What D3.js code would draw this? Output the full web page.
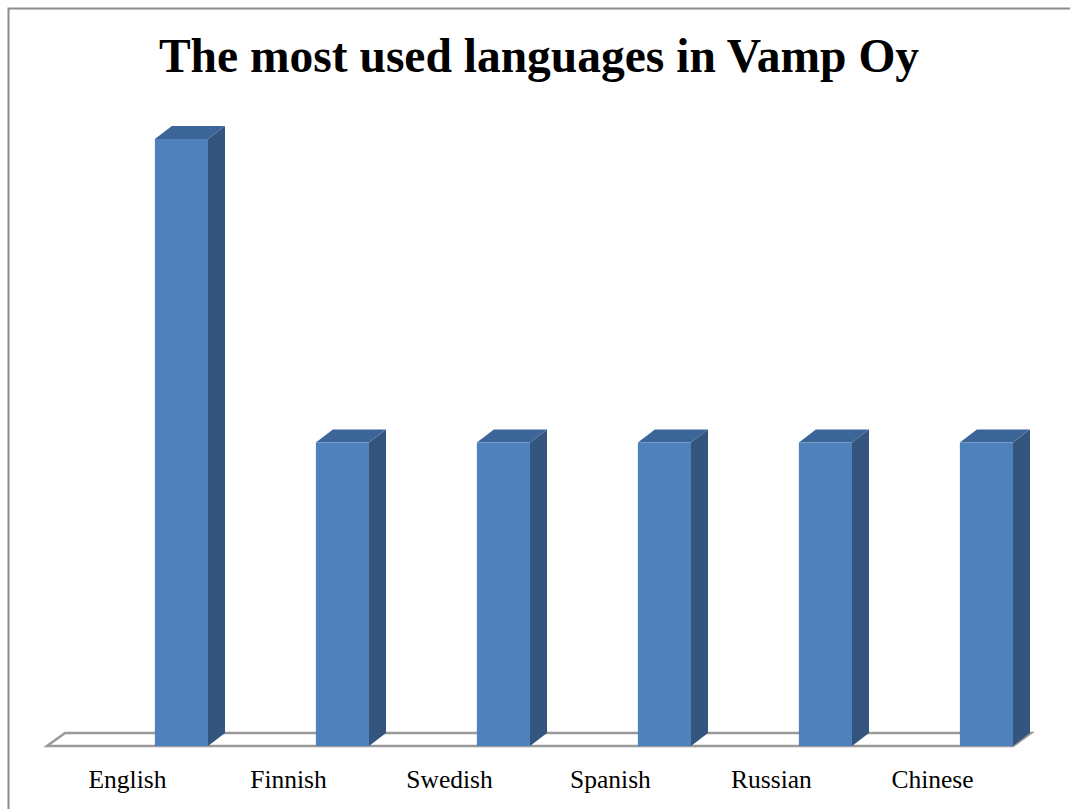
<!DOCTYPE html>
<html>
<head>
<meta charset="utf-8">
<script src="https://cdn.jsdelivr.net/npm/d3@7"></script>
<style>
  html, body { margin: 0; padding: 0; background: #fff; overflow: hidden; }
  svg { display: block; }
</style>
</head>
<body>
<svg id="chart" width="1070" height="809"></svg>
<script>
// Chart data
const titleText = "The most used languages in Vamp Oy";
const categories = ["English", "Finnish", "Swedish", "Spanish", "Russian", "Chinese"];
const values = [2, 1, 1, 1, 1, 1];

const svg = d3.select("#chart");

// Outer chart frame
svg.append("rect")
  .attr("x", 8.5).attr("y", 8.5)
  .attr("width", 1090).attr("height", 830)
  .attr("fill", "#fff")
  .attr("stroke", "#8c8c8c")
  .attr("stroke-width", 2);

// Title
svg.append("text")
  .attr("x", 539).attr("y", 72)
  .attr("text-anchor", "middle")
  .attr("font-family", "'Liberation Serif', 'Times New Roman', serif")
  .attr("font-weight", "bold")
  .attr("font-size", 47.5)
  .attr("fill", "#000")
  .text(titleText);

// Scales
const floorY = 746;
const depthX = 17, depthY = -13;
const x = d3.scaleBand().domain(categories).range([47, 1013]).padding(0);
const y = d3.scaleLinear().domain([0, 2]).range([floorY, 139]);
const barW = x.bandwidth() * 0.33;

// Floor of the 3D plot
const x0 = x.range()[0], x1 = x.range()[1];
svg.append("polygon")
  .attr("points", [
    [x0, floorY], [x1, floorY], [x1 + depthX + 1, floorY + depthY], [x0 + depthX + 1, floorY + depthY]
  ].map(p => p.join(",")).join(" "))
  .attr("fill", "#fff")
  .attr("stroke", "#9a9a9a")
  .attr("stroke-width", 2.5)
  .attr("stroke-linejoin", "miter");

// 3D bars
const bars = svg.append("g").selectAll("g")
  .data(categories.map((c, i) => ({ c, v: values[i] })))
  .join("g");

bars.each(function(d) {
  const g = d3.select(this);
  const left = x(d.c) + x.bandwidth() - barW;
  const right = left + barW;
  const top = y(d.v);
  // side face
  g.append("polygon")
    .attr("points", [
      [right, top], [right + depthX, top + depthY], [right + depthX, floorY + depthY], [right, floorY]
    ].map(p => p.join(",")).join(" "))
    .attr("fill", "#34557e");
  // top face
  g.append("polygon")
    .attr("points", [
      [left, top], [left + depthX, top + depthY], [right + depthX, top + depthY], [right, top]
    ].map(p => p.join(",")).join(" "))
    .attr("fill", "#3d6698");
  // front face
  g.append("rect")
    .attr("x", left).attr("y", top)
    .attr("width", barW).attr("height", floorY - top)
    .attr("fill", "#4f81bd");
});

// Category labels
svg.append("g").selectAll("text")
  .data(categories)
  .join("text")
  .attr("x", d => x(d) + x.bandwidth() / 2)
  .attr("y", 788)
  .attr("text-anchor", "middle")
  .attr("font-family", "'Liberation Serif', 'Times New Roman', serif")
  .attr("font-size", 25.5)
  .attr("fill", "#000")
  .text(d => d);
</script>
</body>
</html>
